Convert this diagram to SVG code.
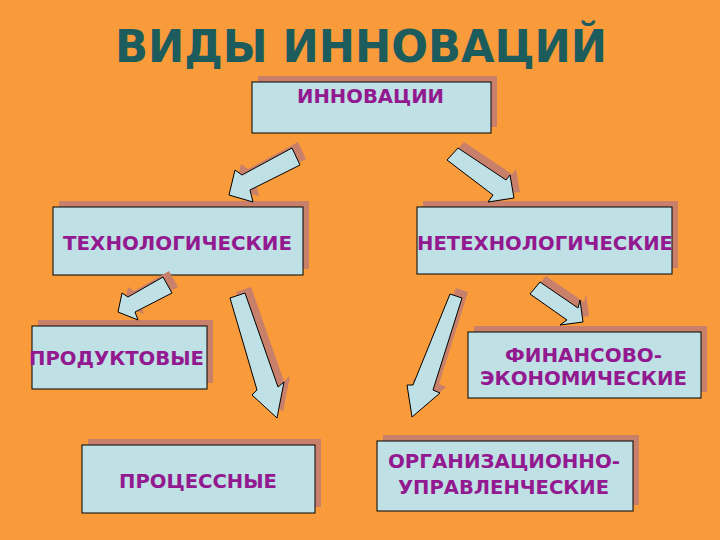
<svg xmlns="http://www.w3.org/2000/svg" width="720" height="540" viewBox="0 0 720 540">
<style>
.bg{fill:#F99B3B}
.sh{fill:#C8806A}
.box{fill:#BFE0E4;stroke:#000;stroke-width:1}
.t{font-family:"DejaVu Sans","Verdana",sans-serif;font-weight:bold;font-size:19px;fill:#92198F;text-anchor:middle}
.title{font-family:"DejaVu Sans","Verdana",sans-serif;font-weight:bold;font-size:44px;fill:#1D5C5C;text-anchor:middle}
.ar{fill:#BFE0E4;stroke:#000;stroke-width:1;stroke-linejoin:miter}
</style>
<rect class="bg" x="0" y="0" width="720" height="540"/>
<text class="title" x="361" y="62" textLength="492" lengthAdjust="spacingAndGlyphs">ВИДЫ ИННОВАЦИЙ</text>

<g id="n-innovacii">
<rect class="sh" x="258" y="76" width="239" height="51"/>
<rect class="box" x="252" y="82" width="239" height="51"/>
<text class="t" x="370.5" y="103" textLength="147" lengthAdjust="spacingAndGlyphs">ИННОВАЦИИ</text>
</g>
<g id="n-tech">
<rect class="sh" x="59" y="201" width="250" height="68"/>
<rect class="box" x="53" y="207" width="250" height="68"/>
<text class="t" x="177.5" y="250" textLength="229" lengthAdjust="spacingAndGlyphs">ТЕХНОЛОГИЧЕСКИЕ</text>
</g>
<g id="n-nontech">
<rect class="sh" x="423" y="201" width="255" height="67"/>
<rect class="box" x="417" y="207" width="255" height="67"/>
<text class="t" x="545" y="250" textLength="256" lengthAdjust="spacingAndGlyphs">НЕТЕХНОЛОГИЧЕСКИЕ</text>
</g>
<g id="n-product">
<rect class="sh" x="38" y="320" width="175" height="63"/>
<rect class="box" x="32" y="326" width="175" height="63"/>
<text class="t" x="116.5" y="365" textLength="175" lengthAdjust="spacingAndGlyphs">ПРОДУКТОВЫЕ</text>
</g>
<g id="n-fin">
<rect class="sh" x="474" y="326" width="233" height="66"/>
<rect class="box" x="468" y="332" width="233" height="66"/>
<text class="t" x="583.5" y="362" textLength="157" lengthAdjust="spacingAndGlyphs">ФИНАНСОВО-</text>
<text class="t" x="583.5" y="385" textLength="207" lengthAdjust="spacingAndGlyphs">ЭКОНОМИЧЕСКИЕ</text>
</g>
<g id="n-process">
<rect class="sh" x="88" y="439" width="233" height="68"/>
<rect class="box" x="82" y="445" width="233" height="68"/>
<text class="t" x="198" y="488" textLength="158" lengthAdjust="spacingAndGlyphs">ПРОЦЕССНЫЕ</text>
</g>
<g id="n-org">
<rect class="sh" x="383" y="435" width="256" height="70"/>
<rect class="box" x="377" y="441" width="256" height="70"/>
<text class="t" x="504" y="468" textLength="232" lengthAdjust="spacingAndGlyphs">ОРГАНИЗАЦИОННО-</text>
<text class="t" x="503.5" y="494" textLength="211" lengthAdjust="spacingAndGlyphs">УПРАВЛЕНЧЕСКИЕ</text>
</g>

<g id="connectors">
<defs>
<polygon id="a1" points="292,148 242,175 235,170 229,195 253,202 250,190 300,165"/>
<polygon id="a2" points="447,160 458,148 506,180 510,175 514,198 488,202 493,195"/>
<polygon id="a3" points="163,277 128,297 122,293 118,312 138,320 135,312 172,293"/>
<polygon id="a4" points="230,298 245,293 278,387 284,382 277,418 252,395 257,390"/>
<polygon id="a5" points="450,294 462,298 433,390 440,393 412,417 407,385 413,385"/>
<polygon id="a6" points="530,294 540,282 578,308 580,300 583,322 560,325 567,320"/>
</defs>
<use href="#a1" class="sh" transform="translate(6,-6)"/>
<use href="#a1" class="ar"/>
<use href="#a2" class="sh" transform="translate(6,-6)"/>
<use href="#a2" class="ar"/>
<use href="#a3" class="sh" transform="translate(6,-6)"/>
<use href="#a3" class="ar"/>
<use href="#a4" class="sh" transform="translate(6,-6)"/>
<use href="#a4" class="ar"/>
<use href="#a5" class="sh" transform="translate(6,-6)"/>
<use href="#a5" class="ar"/>
<use href="#a6" class="sh" transform="translate(6,-6)"/>
<use href="#a6" class="ar"/>
</g>
</svg>
